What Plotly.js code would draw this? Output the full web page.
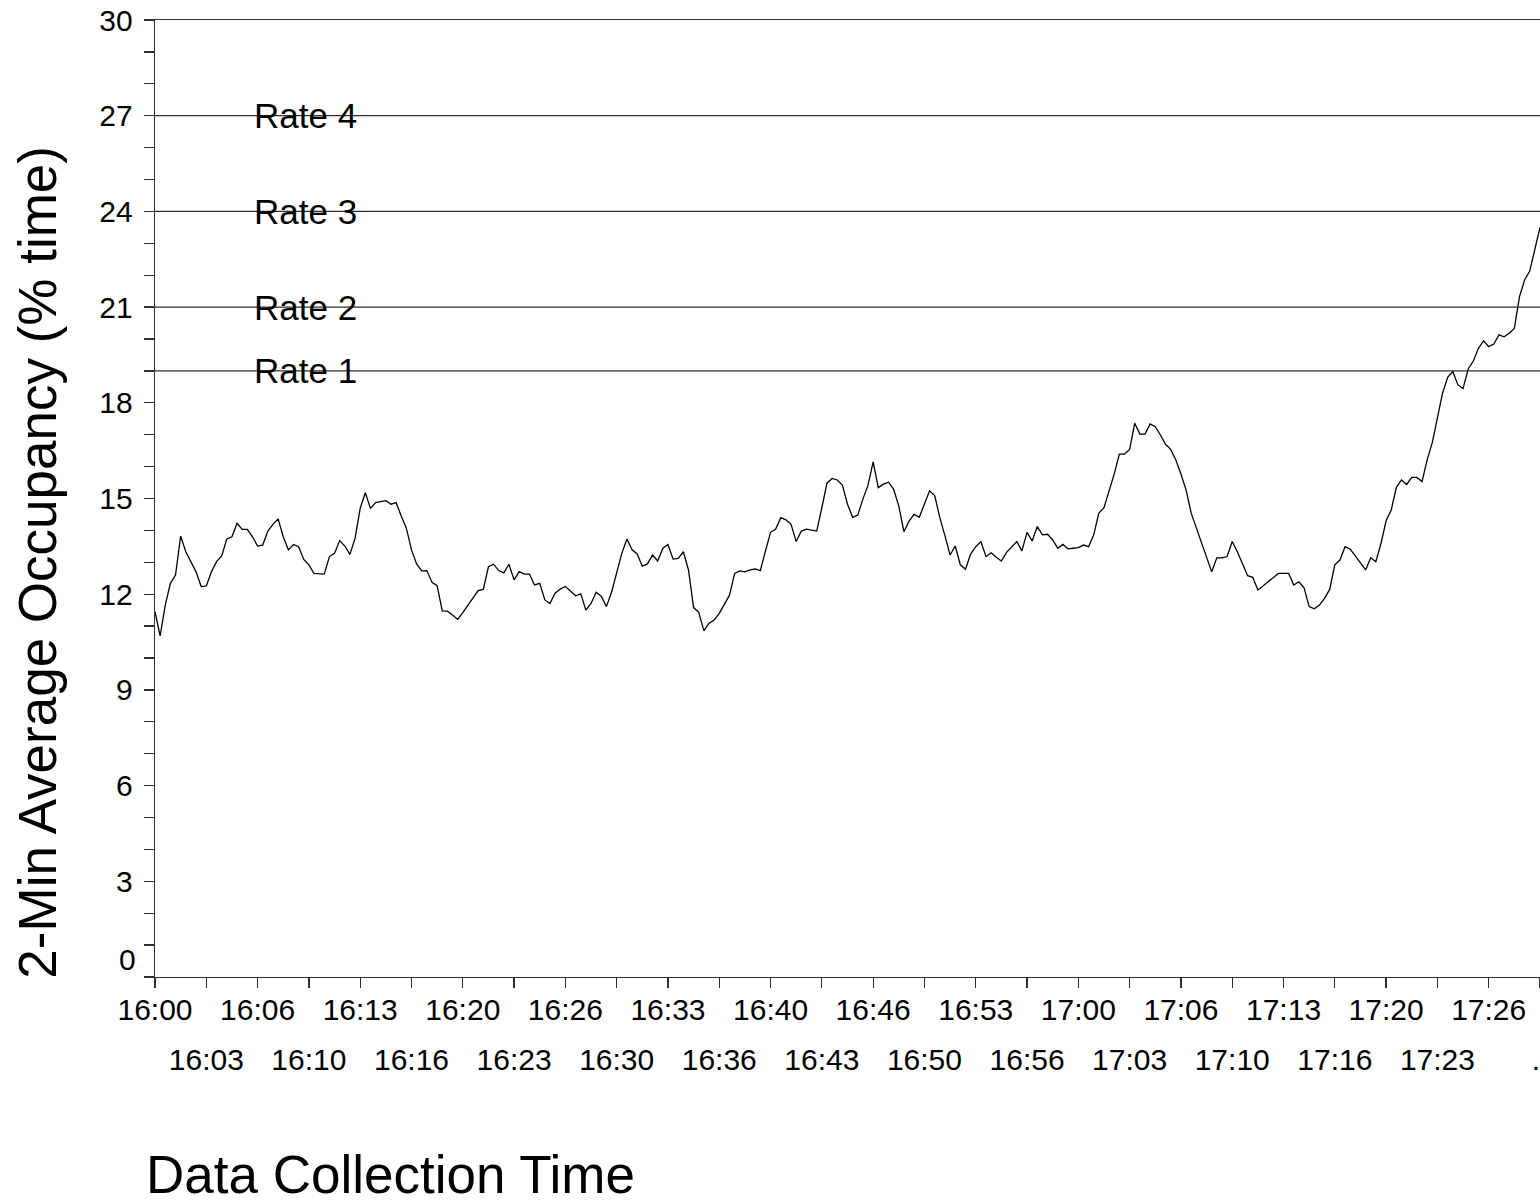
<!DOCTYPE html>
<html>
<head>
<meta charset="utf-8">
<script src="https://cdn.plot.ly/plotly-3.0.1.min.js"></script>
<style>
html,body{margin:0;padding:0;background:#fff;}
#chart{width:1540px;height:1203px;}
</style>
</head>
<body>
<div id="chart"></div>
<script>
// 2-minute average occupancy (% time), one sample every 20 s from 16:00:00 to 17:30:00
var startTime = '2000-01-01 16:00:00';
var sampleSeconds = 20;
var occupancy = [
  11.45,10.69,11.66,12.34,12.60,13.82,13.33,13.02,12.70,12.24,12.26,12.70,13.02,13.20,13.73,13.80,
  14.22,14.03,14.03,13.80,13.51,13.54,13.98,14.19,14.36,13.80,13.39,13.56,13.49,13.09,12.92,12.65,
  12.65,12.63,13.18,13.28,13.68,13.51,13.25,13.75,14.69,15.18,14.69,14.87,14.90,14.93,14.82,
  14.87,14.45,14.07,13.39,12.95,12.73,12.74,12.37,12.27,11.48,11.47,11.35,11.21,11.42,11.64,11.89,
  12.11,12.15,12.86,12.94,12.74,12.67,12.94,12.45,12.71,12.63,12.63,12.29,12.34,11.82,11.71,12.03,
  12.16,12.24,12.11,11.95,12.01,11.50,11.71,12.06,11.94,11.61,12.06,12.70,13.28,
  13.73,13.39,13.26,12.88,12.95,13.23,13.04,13.44,13.56,13.10,13.12,13.33,12.76,11.58,11.43,10.85,
  11.09,11.19,11.40,11.68,11.97,12.65,12.73,12.70,12.76,12.79,12.74,13.35,13.94,14.04,14.40,14.33,
  14.19,13.65,13.98,14.04,14.01,13.98,14.71,15.48,15.63,15.58,15.42,14.82,
  14.41,14.48,14.98,15.42,16.15,15.34,15.45,15.51,15.29,14.76,13.96,14.29,14.50,14.41,14.83,15.24,
  15.09,14.40,13.83,13.23,13.51,12.92,12.78,13.26,13.49,13.65,13.18,13.30,13.16,13.04,13.31,13.49,
  13.65,13.36,13.94,13.67,14.12,13.86,13.88,13.70,13.44,13.56,13.42,13.44,13.46,
  13.54,13.49,13.86,14.54,14.71,15.24,15.77,16.39,16.39,16.54,17.36,17.02,17.02,17.34,17.25,16.99,
  16.70,16.54,16.21,15.77,15.27,14.54,14.07,13.65,13.18,12.70,13.14,13.14,13.18,13.65,13.33,12.95,
  12.58,12.53,12.13,12.26,12.39,12.52,12.65,12.65,12.65,12.29,12.39,12.20,
  11.61,11.54,11.66,11.87,12.15,12.92,13.07,13.49,13.41,13.20,12.99,12.76,13.14,13.02,13.59,14.30,
  14.64,15.35,15.58,15.44,15.66,15.66,15.53,16.21,16.75,17.51,18.30,18.80,18.98,18.56,18.45,19.06,
  19.31,19.71,19.94,19.76,19.84,20.13,20.07,20.18,20.33,21.33,21.85,22.13,22.84,23.50
];

var rateLevels = [19, 21, 24, 27];
var rateLabels = ['Rate 1', 'Rate 2', 'Rate 3', 'Rate 4'];

var tickTimes = [
  '16:00:00','16:03:20','16:06:40','16:10:00','16:13:20','16:16:40','16:20:00','16:23:20','16:26:40',
  '16:30:00','16:33:20','16:36:40','16:40:00','16:43:20','16:46:40','16:50:00','16:53:20','16:56:40',
  '17:00:00','17:03:20','17:06:40','17:10:00','17:13:20','17:16:40','17:20:00','17:23:20','17:26:40','17:30:00'
];
var tickLabels = [
  '16:00','16:03','16:06','16:10','16:13','16:16','16:20','16:23','16:26',
  '16:30','16:33','16:36','16:40','16:43','16:46','16:50','16:53','16:56',
  '17:00','17:03','17:06','17:10','17:13','17:16','17:20','17:23','17:26','..'
];
var yTickVals = [0,3,6,9,12,15,18,21,24,27,30];
var yTickText = ['','3','6','9','12','15','18','21','24','27','30'];

// build the time axis
var t0 = new Date(startTime.replace(' ', 'T') + 'Z').getTime();
function fmt(ms){ return new Date(ms).toISOString().replace('T',' ').slice(0,19); }
var times = occupancy.map(function(_, i){ return fmt(t0 + i * sampleSeconds * 1000); });
var xStart = times[0], xEnd = times[times.length - 1];
var day = '2000-01-01 ';
var tv = tickTimes.map(function(t){ return day + t; });
var oddVals = [], oddText = [];
tv.forEach(function(v, i){
  if (i % 2 === 1) { oddVals.push(v); oddText.push(tickLabels[i]); }
});

var FONT = 'Liberation Sans, Arial, sans-serif';
var traces = [];
rateLevels.forEach(function(lv){
  traces.push({x:[xStart, xEnd], y:[lv, lv], xaxis:'x2', yaxis:'y', mode:'lines',
    line:{color:'#303030', width:1.3}, hoverinfo:'skip', showlegend:false});
});
traces.push({x:times, y:occupancy, mode:'lines', line:{color:'#000', width:1.3}, showlegend:false});

var annotations = rateLevels.map(function(lv, i){
  return {x: day + '16:06:18', y: lv, xref:'x', yref:'y', text: rateLabels[i], showarrow:false,
    xanchor:'left', yanchor:'middle', font:{family:FONT, size:35, color:'#000'}};
});
annotations.push({x:0, y:0, xref:'paper', yref:'y', text:'0', showarrow:false, xanchor:'right', yanchor:'middle',
  xshift:-17, yshift:18, font:{family:FONT, size:30, color:'#000'}});
annotations.push({x:-0.0845, y:0.434, xref:'paper', yref:'paper', text:'2-Min Average Occupancy (% time)',
  showarrow:false, textangle:-90, xanchor:'center', yanchor:'middle', font:{family:FONT, size:53, color:'#000'}});
annotations.push({x:-0.008, y:-0.2065, xref:'paper', yref:'paper', text:'Data Collection Time',
  showarrow:false, xanchor:'left', yanchor:'middle', font:{family:FONT, size:53, color:'#000'}});

var layout = {
  width:1540, height:1203,
  margin:{l:155, r:0, t:20, b:226, pad:0},
  paper_bgcolor:'#fff', plot_bgcolor:'#fff',
  showlegend:false,
  xaxis:{type:'date', range:[xStart, xEnd], tickmode:'array', tickvals:tv,
    ticktext: tv.map(function(v, i){ return i % 2 === 0 ? tickLabels[i] : ''; }),
    ticks:'outside', ticklen:10, tickwidth:1.3, tickcolor:'#303030',
    showline:true, linecolor:'#303030', linewidth:1.3, mirror:true, showgrid:false, zeroline:false,
    ticklabeloverflow:'allow', automargin:false, ticklabelstandoff:-4,
    tickfont:{family:FONT, size:30, color:'#000'}},
  xaxis2:{type:'date', range:[xStart, xEnd], overlaying:'x', side:'bottom', anchor:'y',
    tickmode:'array', tickvals:oddVals, ticktext:oddText, ticks:'', showline:false, showgrid:false,
    zeroline:false, ticklabeloverflow:'allow', automargin:false, ticklabelstandoff:62,
    tickfont:{family:FONT, size:30, color:'#000'}},
  yaxis:{range:[0, 30], tickmode:'array', tickvals:yTickVals, ticktext:yTickText,
    ticks:'outside', ticklen:10, tickwidth:1.3, tickcolor:'#303030',
    minor:{dtick:1, ticks:'outside', ticklen:10, tickwidth:1.3, tickcolor:'#303030', showgrid:false},
    showline:true, linecolor:'#303030', linewidth:1.3, showgrid:false, zeroline:false,
    automargin:false, ticklabelstandoff:5,
    tickfont:{family:FONT, size:30, color:'#000'}},
  annotations: annotations
};

Plotly.newPlot('chart', traces, layout, {staticPlot:true, displayModeBar:false});
</script>
</body>
</html>
